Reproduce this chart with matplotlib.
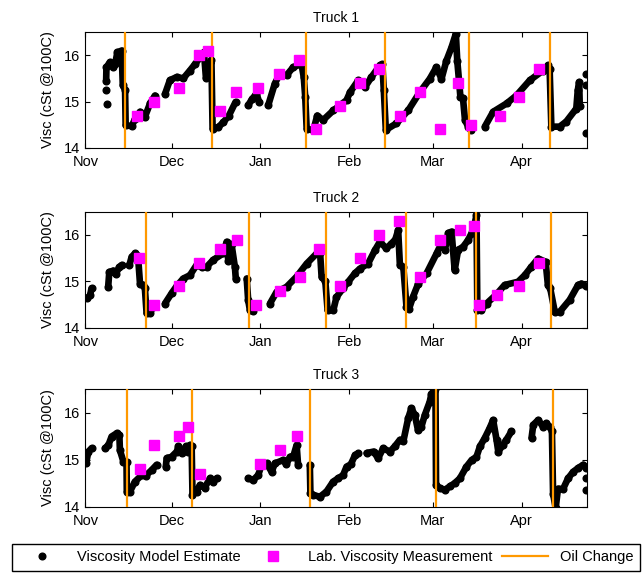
import matplotlib
matplotlib.use('Agg')
import matplotlib.pyplot as plt
import numpy as np

nan = np.nan

# x axis: days counted from Nov 1
month_days = [0, 30, 61, 92, 121, 152]
month_labels = ['Nov', 'Dec', 'Jan', 'Feb', 'Mar', 'Apr']

# Truck 1
t1_day = [7.4, nan, 7.2, nan,
          7.2, 7.3, 8.5, 9.5, 10.3, 11.1, 12.6, 13.0, 13.8, 14.0, 16.1, 17.3, 19.0, nan,
          20.7, 22.5, 24.2, nan,
          27.7, 29.4, 31.8, 34.1, 36.4, 38.2, 41.3, 42.0, 43.1, 43.9, 44.3, 46.3, 48.0, 50.0, 52.3, nan,
          56.7, 58.0, 59.6, 60.5, nan,
          63.7, 66.0, 67.8, 70.1, 72.4, 75.3, 76.1, 76.6, 77.1, 79.4, 80.8, 82.8, 86.4, 88.7, 91.0, 92.2,
          95.1, 97.4, 99.7, 102.6, 103.5, 104.0, 104.7, 108.4, 112.5, 116.5, 120.0, 122.3, 124.1, 125.8,
          127.6, 129.1, 129.6, 130.7, 131.6, 132.3, 133.4, 134.5, nan,
          139.2, 142.1, 146.8, 150.2, 154.9, 159.5, 161.2, 161.8, 162.4, 165.3, 167.6, 171.1, 171.6, 172.1,
          172.3, nan, 174.6, nan, 174.6, nan, 174.6]
t1_visc = [14.94, nan, 15.26, nan,
           15.45, 15.74, 15.85, 15.75, 15.8, 16.06, 16.1, 15.35, 15.25, 14.49, 14.47, 14.63, 14.78, nan,
           14.67, 14.96, 15.13, nan,
           15.16, 15.46, 15.53, 15.5, 15.67, 15.81, 16.06, 15.5, 15.6, 15.9, 14.42, 14.45, 14.55, 14.7, 14.99, nan,
           14.92, 15.05, 15.17, 15.0, nan,
           14.92, 15.39, 15.6, 15.57, 15.74, 15.81, 15.52, 15.1, 14.42, 14.38, 14.7, 14.6, 14.81, 14.92, 15.03, 15.2,
           15.46, 15.31, 15.53, 15.78, 15.8, 15.24, 14.39, 14.53, 14.81, 15.2, 15.49, 15.74, 15.49, 15.88,
           16.17, 16.46, 15.88, 15.1, 15.07, 14.6, 14.46, 14.39, nan,
           14.46, 14.78, 14.96, 15.13, 15.46, 15.67, 15.78, 15.7, 14.46, 14.46, 14.57, 14.85, 15.24, 15.42,
           14.9, nan, 15.6, nan, 15.35, nan, 14.33]
lab1_day = [17.8, 23.9, 32.7, 39.5, 42.6, 46.9, 52.3, 60.1, 67.3, 74.5, 80.5,
            88.7, 95.6, 102.4, 109.6, 116.6, 123.5, 129.9, 134.3, 144.4, 151.2, 158.0]
lab1_visc = [14.7, 15.0, 15.3, 16.0, 16.1, 14.8, 15.2, 15.3, 15.6, 15.9, 14.4,
             14.9, 15.4, 15.7, 14.7, 15.2, 14.4, 15.4, 14.5, 14.7, 15.1, 15.7]
oil1 = [13.8, 44.2, 76.8, 104.4, 133.7, 162.1]

# Truck 2
t2_day = [0.6, 1.6, 2.1, nan,
          7.9, 8.3, 9.7, 10.5, 11.8, 12.6, nan,
          15.3, 16.1, 17.3, 18.3, 19.0, 20.1, 20.7, 21.3, 22.5, 23.4, nan,
          27.7, 30.0, 31.8, 34.1, 36.4, 38.7, 40.5, 42.2, 44.5, 48.0, 49.2, 49.8, 50.9, 52.1, 52.4, nan,
          56.2, 56.7, 57.3, 58.5, nan,
          64.3, 66.6, 70.1, 73.6, 77.1, 80.6, 81.8, 82.3, 83.6, 84.4, 86.4, 87.5, 89.8, 91.6, 93.9, 95.6,
          98.5, 100.9, 102.6, 104.9, 106.6, 108.0, 109.0, 109.6, 110.8, 111.9, 112.8, 114.2, 116.0, 118.9,
          122.4, 124.1, 125.3, 126.5, 127.6, 128.7, 129.9, 131.6, 133.4, 134.6, 135.4, 136.3, 136.6, 138.0,
          139.8, 143.3, 146.1, 150.8, 153.1, 155.4, 157.8, 160.4, 161.2, 162.0, 163.6, 165.3, 168.8, 171.7,
          172.9, 174.6]
t2_visc = [14.63, 14.7, 14.85, nan,
           14.88, 15.2, 15.23, 15.15, 15.31, 15.35, nan,
           15.35, 15.53, 15.6, 15.55, 14.95, 14.92, 14.85, 14.31, 14.31, 14.45, nan,
           14.52, 14.74, 14.9, 15.06, 15.13, 15.35, 15.3, 15.31, 15.46, 15.6, 15.85, 15.43, 15.8, 15.3, 15.05, nan,
           15.06, 14.6, 14.38, 14.35, nan,
           14.52, 14.77, 14.88, 15.1, 15.38, 15.6, 15.6, 15.1, 15.0, 14.38, 14.38, 14.66, 14.85, 14.99, 15.17, 15.27,
           15.38, 15.67, 15.85, 15.71, 15.81, 15.9, 16.1, 15.35, 15.31, 14.45, 14.41, 14.67, 14.95, 15.17,
           15.6, 15.82, 15.68, 16.04, 16.07, 15.24, 15.68, 15.74, 15.89, 16.04, 16.17, 16.42, 14.38, 14.38,
           14.52, 14.72, 14.92, 14.99, 15.13, 15.31, 15.49, 15.42, 14.92, 14.85, 14.34, 14.34, 14.6, 14.92,
           14.95, 14.9]
lab2_day = [18.7, 24.0, 32.7, 39.6, 46.9, 52.7, 59.6, 67.8, 74.7, 81.5, 88.7,
            95.6, 102.4, 109.3, 116.5, 123.5, 130.5, 135.5, 137.1, 143.3, 151.2, 158.0]
lab2_visc = [15.5, 14.5, 14.9, 15.4, 15.7, 15.9, 14.5, 14.8, 15.1, 15.7, 14.9,
             15.5, 16.0, 16.3, 15.1, 15.9, 16.1, 16.2, 14.5, 14.7, 14.9, 15.4]
oil2 = [21.1, 57.1, 84.0, 111.9, 136.3, 162.4]

# Truck 3
t3_day = [0.2, 1.0, 2.1, nan,
          6.8, 8.0, 9.1, 10.9, 11.8, 12.0, 13.2, 14.3, 14.4, 15.5, 17.2, 19.6, 21.0, 23.1, 24.8, nan,
          28.0, 28.3, 30.0, 31.8, 32.4, 33.5, 35.0, 35.8, 36.4, 37.0, 37.3, 38.7, 39.9, 41.5, 43.4, 44.5, 45.7, nan,
          56.7, 58.5, 60.2, 61.4, 63.1, 64.9, 66.0, 68.9, 70.0, 71.3, 72.4, 73.6, 74.1, nan,
          78.2, 78.4, 79.4, 81.7, 84.0, 86.3, 88.0, 89.8, 91.0, 92.5, 94.0, 95.1, nan,
          98.0, 100.4, 102.0, 103.8, 106.1, 107.8, 109.6, 110.8, 112.5, 113.6, 114.8, 115.9, 117.1, 118.3,
          120.0, 120.6, 121.4, 122.0, 122.2, 123.5, 125.3, 127.0, 128.7, 130.5, 132.8, 134.6, 136.3, 137.5,
          139.2, 140.9, 142.1, 143.3, 143.9, 145.5, 146.7, 148.5, nan,
          155.5, 156.1, 157.8, 159.5, 160.6, 161.8, 162.6, 163.0, 163.9, 164.7, 166.5, 168.2, 170.0, 171.7,
          173.5, 174.6, nan, 174.6, nan, 174.6]
t3_visc = [14.92, 15.17, 15.24, nan,
           15.24, 15.31, 15.49, 15.56, 15.53, 15.2, 14.96, 14.95, 14.32, 14.32, 14.53, 14.67, 14.66, 14.78, 14.89, nan,
           14.85, 15.03, 15.06, 15.17, 15.28, 15.13, 15.28, 15.17, 15.31, 15.28, 14.25, 14.32, 14.46, 14.4, 14.6, 14.53, 14.6, nan,
           14.6, 14.57, 14.67, 14.89, 14.92, 14.74, 14.92, 14.99, 14.9, 15.06, 15.06, 15.31, 14.89, nan,
           14.89, 14.3, 14.25, 14.21, 14.32, 14.53, 14.6, 14.67, 14.85, 14.9, 15.1, 15.13, nan,
           15.14, 15.17, 15.03, 15.24, 15.17, 15.28, 15.42, 15.39, 15.88, 16.09, 15.95, 15.63, 15.7, 15.95,
           16.23, 16.4, 16.46, 16.5, 14.46, 14.39, 14.36, 14.43, 14.5, 14.6, 14.85, 14.99, 15.06, 15.28,
           15.46, 15.67, 15.84, 15.42, 15.17, 15.31, 15.42, 15.6, nan,
           15.46, 15.74, 15.84, 15.7, 15.77, 15.7, 15.6, 14.28, 13.97, 14.38, 14.38, 14.6, 14.74, 14.82,
           14.89, 14.82, nan, 14.6, nan, 14.36]
lab3_day = [19.0, 23.9, 32.7, 35.6, 39.9, 60.9, 67.8, 73.8]
lab3_visc = [14.8, 15.3, 15.5, 15.7, 14.7, 14.9, 15.2, 15.5]
oil3 = [14.3, 37.2, 78.2, 122.1, 162.8]

trucks = [
    ('Truck 1', t1_day, t1_visc, lab1_day, lab1_visc, oil1),
    ('Truck 2', t2_day, t2_visc, lab2_day, lab2_visc, oil2),
    ('Truck 3', t3_day, t3_visc, lab3_day, lab3_visc, oil3),
]

plt.rcParams['font.family'] = ['Liberation Sans', 'DejaVu Sans']

W, H = 642, 573
fig = plt.figure(figsize=(W / 100, H / 100), dpi=100)

# axes boxes in pixels: (top, bottom)
boxes = [(32, 148), (211.7, 327.7), (389, 506.7)]
left, right = 85.5, 587.5

ORANGE = '#FF9900'
MAGENTA = '#FF00FF'

for (top, bot), (title, md, mv, ld, lv, oil) in zip(boxes, trucks):
    ax = fig.add_axes([left / W, 1 - bot / H, (right - left) / W, (bot - top) / H])
    ax.plot(md, mv, '-', color='black', lw=4.8, solid_capstyle='round', zorder=2)
    ax.plot(md, mv, ls='none', marker='o', ms=4.8, color='black', zorder=2,
            label='Viscosity Model Estimate')
    for i, d in enumerate(oil):
        ax.axvline(d, color=ORANGE, lw=1.6, zorder=3,
                   label='Oil Change' if i == 0 else None)
    ax.plot(ld, lv, ls='none', marker='s', ms=7.5, color=MAGENTA, mec=MAGENTA, zorder=4,
            label='Lab. Viscosity Measurement')
    ax.set_xlim(0, 175)
    ax.set_ylim(14, 16.5)
    ax.set_xticks(month_days)
    ax.set_xticklabels(month_labels)
    ax.set_yticks([14, 15, 16])
    ax.tick_params(direction='in', top=True, right=True, length=3.5, labelsize=10.5)
    ax.tick_params(axis='x', pad=5)
    ax.tick_params(axis='y', pad=4)
    ax.set_title(title, fontsize=10, pad=7)
    ax.set_ylabel('Visc (cSt @100C)', fontsize=10.5, labelpad=6)

handles, labels = ax.get_legend_handles_labels()
order = [labels.index('Viscosity Model Estimate'),
         labels.index('Lab. Viscosity Measurement'),
         labels.index('Oil Change')]
fig.legend([handles[i] for i in order], [labels[i] for i in order],
           loc='lower left', bbox_to_anchor=(12 / W, 2 / H, 628 / W, 29 / H),
           mode='expand', ncol=3, fontsize=10.5, frameon=True, fancybox=False,
           edgecolor='black', framealpha=1, borderaxespad=0, handlelength=3.2,
           borderpad=0.45)

fig.savefig('out.png', dpi=100)
